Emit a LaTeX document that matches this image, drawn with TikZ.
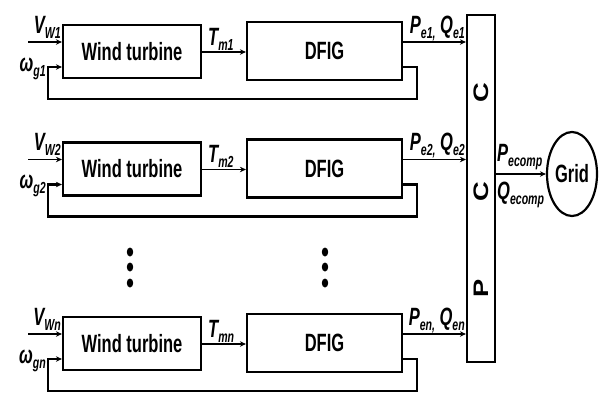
\documentclass[tikz,border=0pt]{standalone}
\usepackage{fontspec}
\setmainfont{Liberation Sans}[FakeStretch=0.66]
\newfontfamily\rotfont{Liberation Sans}[FakeStretch=1.3]
\usetikzlibrary{arrows.meta,shapes.geometric}
\newcommand\lsub[1]{\raisebox{-0.2em}{\fontsize{16}{16}\selectfont #1}}
\begin{document}
\begin{tikzpicture}[x=1pt,y=-1pt,
  box/.style={draw, line width=2.2pt, inner sep=0pt, font=\fontsize{25}{25}\selectfont\bfseries},
  sig/.style={line width=1.5pt, -{Stealth[length=6pt,width=5.5pt]}},
  fb/.style={line width=2.2pt},
  lab/.style={font=\fontsize{25}{25}\selectfont\bfseries\itshape, inner sep=0pt},
  rl/.style={font=\fontsize{21}{21}\rotfont\bfseries, rotate=90, inner sep=0pt}]
\useasboundingbox (0,0) rectangle (600,394);
% PCC
\node[draw, line width=2.2pt, minimum width=28pt, minimum height=347pt, inner sep=0pt] (pcc) at (481,188.5) {};
\node[rl] (pc1) at (481,93) {C};
\node[rl] (pc2) at (481,192) {C};
\node[rl] (pp) at (481,288) {P};
% Grid
\node[box, ellipse, minimum width=50pt, minimum height=84pt] (grid) at (572,174) {Grid};
\draw[sig] (pcc.east |- grid) -- (grid.west);
\node[lab, anchor=base west] (pec) at (497,161) {P\lsub{ecomp}};
\node[lab, anchor=base west] (qec) at (497,199) {Q\lsub{ecomp}};
% rows
\foreach \r/\dy in {1/0, 2/117.5, n/292}{
\begin{scope}[yshift=-\dy pt]
\node[box, minimum width=138pt, minimum height=53pt] (wt\r) at (132,51.5) {Wind turbine};
\node[box, minimum width=155pt, minimum height=58pt] (dfig\r) at (324.5,51) {DFIG};
\coordinate (vin\r) at (28,42);
\coordinate (fbR\r) at (417,99);
\coordinate (fbL\r) at (48,99);
\draw[sig] (vin\r) -- (vin\r -| wt\r.west);
\draw[sig] (wt\r.east |- 0,52) -- (dfig\r.west |- 0,52);
\draw[sig] (dfig\r.east |- 0,42) -- (pcc.west |- 0,42);
\draw[fb, -{Stealth[length=6pt,width=5.5pt]}] (dfig\r.east |- 0,67) -| (fbR\r) -- (fbL\r) |- (wt\r.west |- 0,67);
\node[lab, anchor=base east] (lv\r) at (61,33) {V\lsub{W\r}};
\node[lab, anchor=base east] (lw\r) at (46,71) {ω\lsub{g\r}};
\node[lab, anchor=base west] (lt\r) at (208,45) {T\lsub{m\r}};
\node[lab, anchor=base east] (lp\r) at (465,33) {P\lsub{e\r,}\ Q\lsub{e\r}};
\end{scope}
}
% dots
\foreach \yy in {252,267,283}{
  \fill (130,\yy) ellipse [x radius=3.2pt, y radius=4.5pt];
  \fill (325,\yy) ellipse [x radius=3.2pt, y radius=4.5pt];
}
\end{tikzpicture}
\end{document}
